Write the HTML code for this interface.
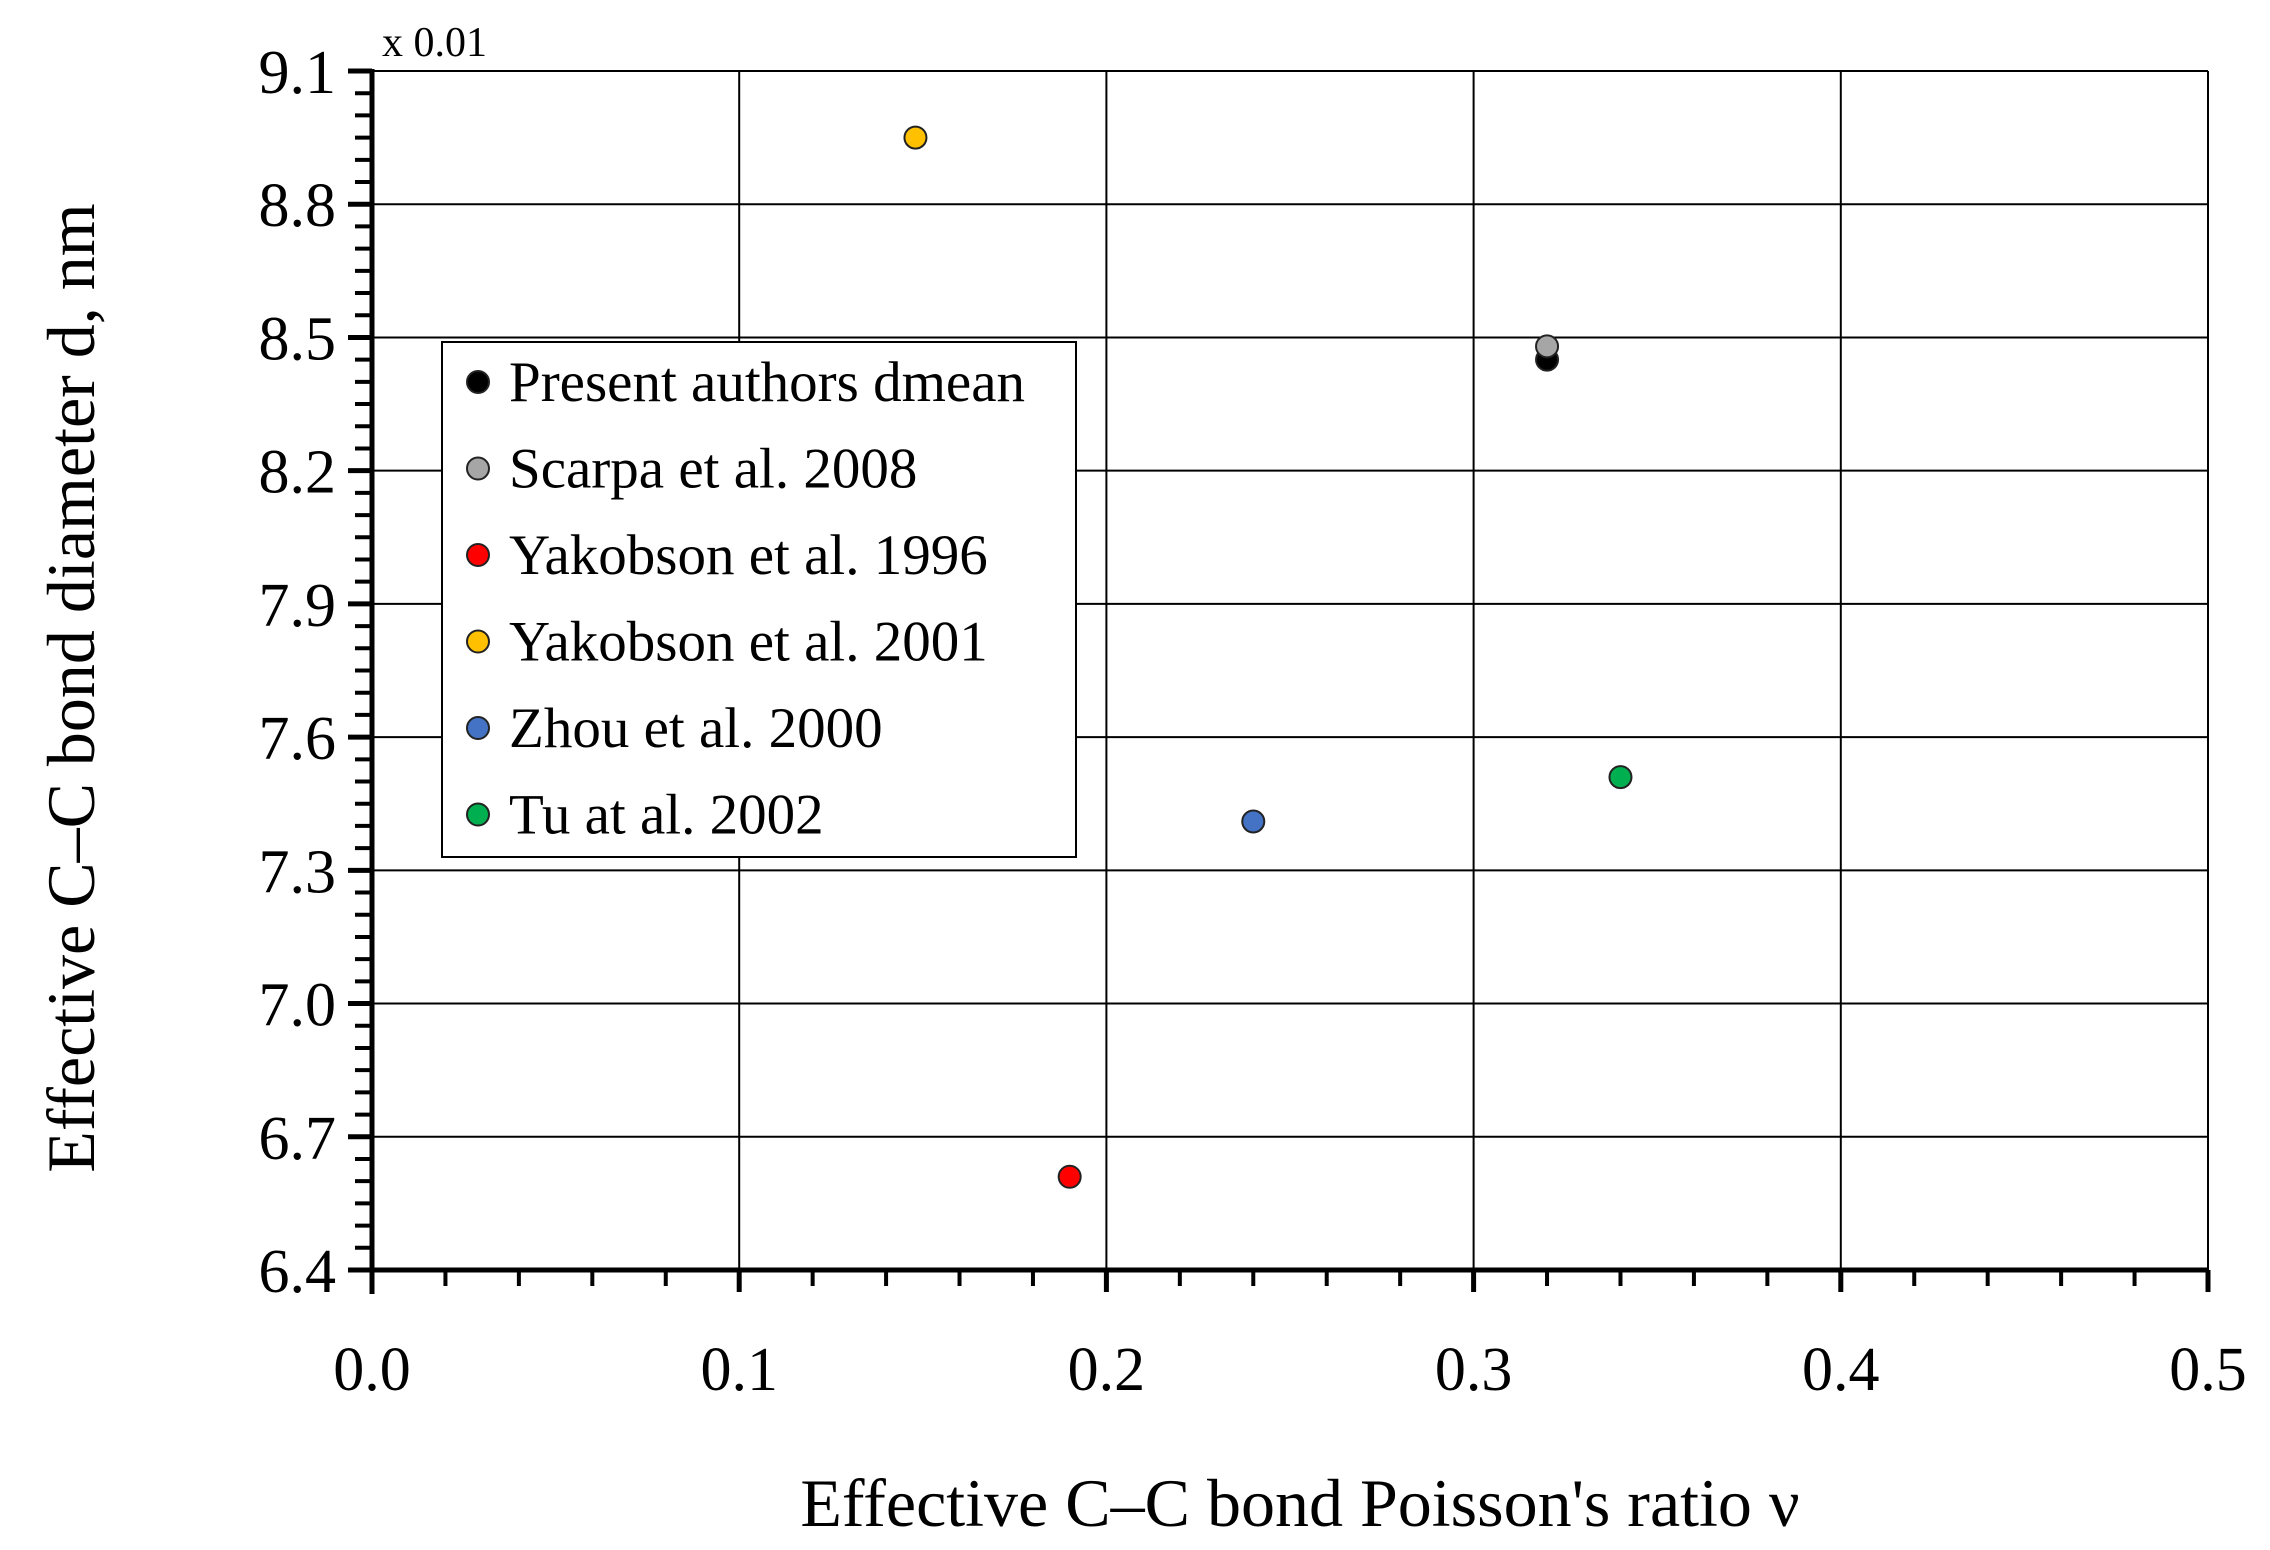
<!DOCTYPE html>
<html><head><meta charset="utf-8"><style>
html,body{margin:0;padding:0;background:#fff;}
svg{display:block;font-family:"Liberation Serif",serif;}
</style></head><body>
<svg id="chart" width="2270" height="1550" viewBox="0 0 2270 1550" xmlns="http://www.w3.org/2000/svg">
<g id="grid"></g>
<g id="axes"></g>
<g id="points"></g>
<text x="382" y="56" font-size="42">x 0.01</text>
<text x="1300" y="1526" font-size="68" text-anchor="middle">Effective C–C bond Poisson's ratio ν</text>
<text transform="translate(94,688) rotate(-90)" font-size="68" text-anchor="middle">Effective C–C bond diameter d, nm</text>
<g id="legend"></g>
</svg>
<script>
const seriesNames = ["Present authors dmean","Scarpa et al. 2008","Yakobson et al. 1996","Yakobson et al. 2001","Zhou et al. 2000","Tu at al. 2002"];
const seriesColors = ["#000000","#a6a6a6","#ff0000","#ffc000","#4472c4","#00b050"];
const xValues = [0.32,0.32,0.19,0.148,0.24,0.34];
const yValues = [8.45,8.48,6.61,8.95,7.41,7.51];
const xTicks = [0.0,0.1,0.2,0.3,0.4,0.5];
const xTickLabels = ["0.0","0.1","0.2","0.3","0.4","0.5"];
const yTicks = [6.4,6.7,7.0,7.3,7.6,7.9,8.2,8.5,8.8,9.1];
const yTickLabels = ["6.4","6.7","7.0","7.3","7.6","7.9","8.2","8.5","8.8","9.1"];

const NS="http://www.w3.org/2000/svg";
const L=372,R=2208,T=71,B=1270;
const xMin=0,xMax=0.5,yMin=6.4,yMax=9.1;
function sx(v){return L+(v-xMin)/(xMax-xMin)*(R-L);}
function sy(v){return B-(v-yMin)/(yMax-yMin)*(B-T);}
function mk(tag,attrs,parent){const e=document.createElementNS(NS,tag);for(const k in attrs)e.setAttribute(k,attrs[k]);parent.appendChild(e);return e;}
const gridG=document.getElementById('grid'),axesG=document.getElementById('axes'),ptsG=document.getElementById('points'),legG=document.getElementById('legend');

xTicks.forEach((v,i)=>{
  if(i>0){const g=mk('line',{x1:sx(v),x2:sx(v),y1:T,y2:B,stroke:'#000','stroke-width':2},gridG);
  
  }
  const t=mk('line',{x1:sx(v),x2:sx(v),y1:B,y2:B+22,stroke:'#000','stroke-width':5},axesG);
  
  
  const tx=mk('text',{x:sx(v),y:1390,'font-size':62,'text-anchor':'middle'},axesG);
  tx.textContent=xTickLabels[i];
  
  
});
for(let k=1;k<25;k++){
  if(k%5===0)continue;
  const v=xMin+k*0.02;
  const t=mk('line',{x1:sx(v),x2:sx(v),y1:B,y2:B+16,stroke:'#000','stroke-width':4},axesG);
  
  
}
yTicks.forEach((v,i)=>{
  if(i>0){const g=mk('line',{x1:L,x2:R,y1:sy(v),y2:sy(v),stroke:'#000','stroke-width':2},gridG);
  
  }
  const t=mk('line',{x1:L-24,x2:L,y1:sy(v),y2:sy(v),stroke:'#000','stroke-width':5},axesG);
  
  
  const tx=mk('text',{x:336,y:sy(v)+22,'font-size':62,'text-anchor':'end'},axesG);
  tx.textContent=yTickLabels[i];
  
  
});
for(let k=1;k<54;k++){
  if(k%6===0)continue;
  const v=yMin+k*0.05;
  const t=mk('line',{x1:L-17,x2:L,y1:sy(v),y2:sy(v),stroke:'#000','stroke-width':4},axesG);
  
  
}
const rightBorder=mk('line',{x1:R,x2:R,y1:T,y2:B,stroke:'#000','stroke-width':2},gridG);


const topBorder=mk('line',{x1:L,x2:R,y1:T,y2:T,stroke:'#000','stroke-width':2},gridG);


const xAxisLine=mk('line',{x1:L-24,x2:R,y1:B,y2:B,stroke:'#000','stroke-width':5},axesG);


const yAxisLine=mk('line',{x1:L,x2:L,y1:T-2,y2:B+24,stroke:'#000','stroke-width':5},axesG);



xValues.forEach((x,i)=>{
  const c=mk('circle',{cx:sx(x),cy:sy(yValues[i]),r:11,fill:seriesColors[i],stroke:'#222','stroke-width':2},ptsG);
  
  
});

const legendBox=mk('rect',{x:442,y:342,width:634,height:515,fill:'#fff',stroke:'#000','stroke-width':2},legG);


seriesNames.forEach((n,i)=>{
  const y=382+i*86.5;
  const g=mk('g',{},legG);
  
  
  mk('circle',{cx:478,cy:y,r:11,fill:seriesColors[i],stroke:'#222','stroke-width':2},g);
  const t=mk('text',{x:509,y:y+19,'font-size':57},g);
  t.textContent=n;
});
</script>
</body></html>
